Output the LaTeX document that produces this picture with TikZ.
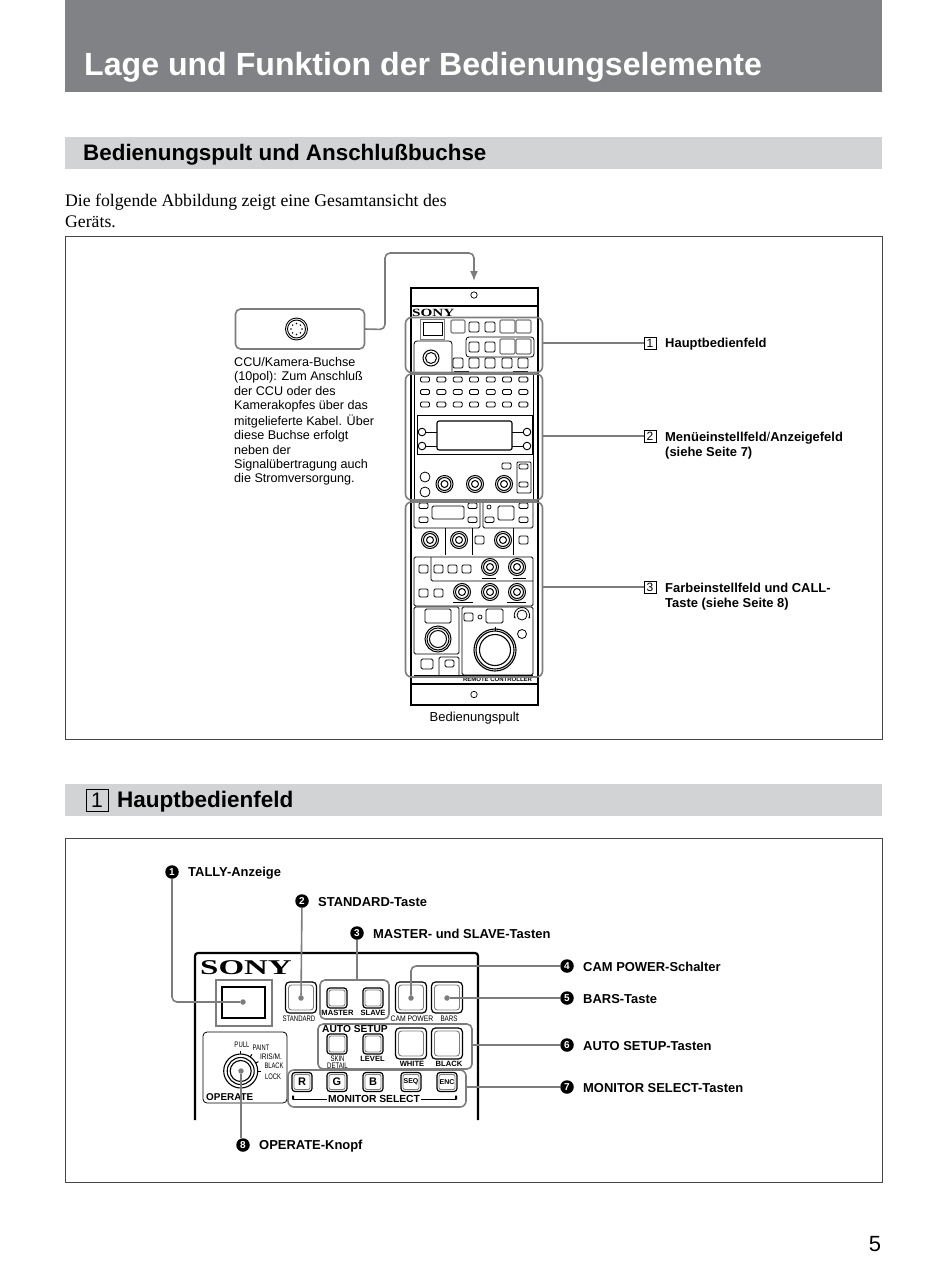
\documentclass[tikz,border=0pt]{standalone}
\usepackage{fontspec}
\usepackage{graphicx}
\setmainfont{Liberation Sans}
\newfontfamily\serifschrift{Liberation Serif}
\usetikzlibrary{positioning,arrows.meta}
\definecolor{balken}{RGB}{128,130,133}
\definecolor{hellbalken}{RGB}{209,211,212}
\definecolor{zeiger}{RGB}{125,125,125}
\definecolor{rahmen}{RGB}{70,70,70}
\newcommand{\gr}[1]{\fontsize{#1}{#1}\selectfont}
\newcommand{\schmal}[2][0.75]{\scalebox{#1}[1]{#2}}

\begin{document}
\begin{tikzpicture}[x=1pt,y=-1pt,
  band/.style={fill=#1,draw=none,minimum width=817pt,anchor=west,inner sep=0pt,outer sep=0pt},
  frame/.style={draw=rahmen,line width=0.6pt,anchor=north west,minimum width=816.5pt,inner sep=0pt},
  lbl/.style={anchor=west,inner sep=0pt,yshift=-0.8pt,font=\gr{12.95}\bfseries,align=left},
  txt/.style={anchor=north west,inner sep=0pt,font=\gr{12.6},align=left},
  numbox/.style={draw=black,line width=0.6pt,minimum size=12pt,inner sep=0pt,font=\gr{12}},
  bullet/.style={circle,fill=black,text=white,minimum size=13.5pt,inner sep=0pt,font=\gr{10}\bfseries},
  bracket/.style={draw=zeiger,line width=1.6pt,rounded corners=6pt,minimum width=137pt,inner sep=0pt,outer sep=0pt},
  grpbox/.style={draw=zeiger,line width=1.6pt,rounded corners=5pt,inner sep=0pt,outer sep=0pt},
  zeigerline/.style={draw=zeiger,line width=1.6pt,rounded corners=5pt},
  dot/.style={circle,fill=zeiger,minimum size=5.5pt,inner sep=0pt,outer sep=0pt},
  part/.style={draw=black,line width=0.9pt,fill=white,rounded corners=1.2pt},
  thin part/.style={draw=black,line width=0.8pt,rounded corners=1.5pt},
  tinylbl/.style={inner sep=0pt,font=\gr{8}},
  capt/.style={inner sep=0pt,font=\gr{7.6}\bfseries}]
  \useasboundingbox (0,0) rectangle (950,1268);

  % baender und rahmen
  \node[band=balken,minimum height=92pt] (titel) at (65,46) {};
  \node[anchor=west,inner sep=0pt,text=white,font=\gr{32.1}\bfseries] (titeltext) at (84,67.5) {Lage und Funktion der Bedienungselemente};
  \node[band=hellbalken,minimum height=32pt] (band1) at (65,153) {};
  \node[anchor=west,inner sep=0pt,font=\gr{22.4}\bfseries] (band1text) at (83,154.5) {Bedienungspult und Anschlußbuchse};
  \node[anchor=north west,inner sep=0pt,font=\serifschrift\gr{17.7},align=left] (intro) at (65,194) {Die folgende Abbildung zeigt eine Gesamtansicht des\\[3pt]Geräts.};
  \node[frame,minimum height=503pt] (rahmen1) at (65,236) {};
  \node[band=hellbalken,minimum height=32pt] (band2) at (65,800) {};
  \node[numbox,minimum size=22pt,font=\gr{21}] (bandnum) at (97,800) {1};
  \node[anchor=west,inner sep=0pt,font=\gr{22.5}\bfseries] (band2text) at (117,801.5) {Hauptbedienfeld};
  \node[frame,minimum height=344pt] (rahmen2) at (65,838) {};
  \node[inner sep=0pt,font=\gr{22}] (seite) at (875,1244) {5};

  % bedienungspult, gehaeuse
  \draw[line width=1.4pt] (411,288) -- (538,288);
  \draw[line width=2pt] (411,287) -- (411,705) -- (538,705) -- (538,287);
  \draw[line width=1.2pt] (411,306) -- (538,306) (411,684) -- (538,684);
  \draw[line width=0.7pt] (474,295) circle (3.2) (474,694.5) circle (3.2);
  \draw[line width=0.8pt] (414,374) -- (414,502) (533,374) -- (533,502);
  \node[anchor=west,inner sep=0pt,font=\serifschrift\gr{11}\bfseries] (sonyklein) at (412,313) {\scalebox{1.38}[1]{SONY}};
  \node[inner sep=0pt,font=\gr{6}\bfseries] (remote) at (497.5,679.5) {REMOTE CONTROLLER};

  % teil 1
  \draw[line width=1pt,draw=zeiger] (420,319) rectangle (444,339);
  \draw[line width=0.9pt] (423,322) rectangle (442,335);
  \foreach \a/\b in {451/465,500/515,516/531}
    \draw[part,draw=zeiger,line width=1.2pt] (\a,320) rectangle (\b,333);
  \foreach \a in {469,485}
    \draw[part] (\a,322) rectangle ++(10,10);
  \draw[thin part,rounded corners=3pt] (414,372) -- (414,341) -- (452,341) -- (452,372);
  \draw[line width=1pt] (431,358) circle (8) (431,358) circle (5.5);
  \draw[thin part,rounded corners=3pt] (466,337) rectangle (534,357);
  \foreach \a in {469,485}
    \draw[part] (\a,342) rectangle ++(10,10);
  \foreach \a/\b in {500/515,516/531}
    \draw[part,draw=zeiger,line width=1.2pt] (\a,339) rectangle (\b,354);
  \foreach \a in {453,469,485,502,518}
    \draw[part] (\a,358) rectangle ++(10,10);
  \draw[line width=0.8pt] (454,371) -- (469,371) (513,371) -- (528,371);

  % teil 2
  \foreach \y in {379.5,392,404.5}
    \foreach \x in {425,441.3,457.7,474,490.7,507,523.3}
      \draw[part] (\x-4.5,\y-2.5) rectangle ++(9,5);
  \draw[line width=0.8pt] (417,415) rectangle (532,454);
  \draw[thin part,rounded corners=2pt,line width=1.1pt] (437,421) rectangle (512,450);
  \foreach \y in {432,446}{
    \draw[line width=0.8pt] (422,\y) -- (437,\y) (512,\y) -- (527,\y);
    \draw[part] (422,\y) circle (3.8) (527,\y) circle (3.8);
  }
  \draw[line width=0.8pt] (425,477) circle (5) (425,492) circle (5);
  \foreach \x in {444.5,475,504}{
    \draw[line width=1pt] (\x,484) circle (8.5) (\x,484) circle (6.5) (\x,484) circle (3.5);
  }
  \draw[part] (502,463) rectangle (511,469);
  \draw[thin part,rounded corners=1pt] (517,462) rectangle (531,493);
  \draw[part] (519,464) rectangle (528,469) (519,482) rectangle (528,487);

  % teil 3
  \draw[thin part] (414,503) -- (414,528) -- (480,528) -- (480,503);
  \draw[thin part] (483,503) -- (483,528) -- (533,528) -- (533,503);
  \foreach \x/\y in {419/503,419/517,468/503,468/517,519/503,519/517,485/517}
    \draw[part] (\x,\y) rectangle ++(9,5.5);
  \draw[thin part] (432,506) rectangle (464,519) (498,506) rectangle (514,520);
  \draw[line width=0.7pt] (489,507) circle (2);
  \foreach \x/\y in {430/540,459/540,503/540,490/567,517/567,462/592,490/592,517/592}{
    \draw[line width=1pt] (\x,\y) circle (8.5) (\x,\y) circle (6.5) (\x,\y) circle (3.5);
  }
  \draw[line width=0.8pt] (445,528) -- (445,555) (472,528) -- (472,555) (513,528) -- (513,555);
  \foreach \x in {475,519}
    \draw[part] (\x,536) rectangle ++(9,8);
  \draw[thin part] (414,557) rectangle (533,606);
  \draw[thin part] (431,557) -- (431,581) -- (533,581);
  \foreach \x/\y in {419/565,434/565,448/565,462/565,419/589,434/589}
    \draw[part] (\x,\y) rectangle ++(9,8);
  \draw[line width=1pt] (482,578) -- (496,578) (513,578) -- (526,578) (453,602) -- (473,602) (507,602) -- (526,602);
  \draw[thin part] (414,607) -- (459,607) -- (459,654) -- (414,654) -- cycle;
  \draw[thin part] (425,609) rectangle (451,623);
  \draw[line width=1pt] (438,639) circle (13) (438,639) circle (11) (438,639) circle (8.5);
  \draw[thin part] (421,659) rectangle (433,669);
  \draw[thin part] (439,675) -- (439,657) -- (459,657) -- (459,675);
  \draw[thin part] (445,660) rectangle (454,667);
  \draw[thin part] (462,675) -- (462,607) -- (533,607) -- (533,675) -- cycle;
  \draw[part] (464,613) rectangle (473,621);
  \draw[line width=0.7pt] (480,617) circle (2);
  \draw[thin part] (486,609) rectangle (503,623);
  \draw[line width=0.8pt] (522,615) circle (5);
  \draw[line width=0.8pt,{Latex[length=2pt,width=2pt]}-{Latex[length=2pt,width=2pt]}] (522,615) ++(150:7.5) arc (150:390:7.5);
  \draw[line width=0.8pt] (522,634) circle (4.5);
  \draw[line width=1.1pt] (495,650) circle (21) (495,650) circle (19) (495,650) circle (15.5);
  \draw[line width=0.8pt] (495,627) -- (495,631);
  \draw[line width=0.8pt] (414,675) -- (533,675);

  % klammern und beschriftung oben
  \node[bracket,minimum height=55pt] (sec1) at (474,345) {};
  \node[bracket,minimum height=126pt] (sec2) at (474,437) {};
  \node[bracket,minimum height=175pt] (sec3) at (474,589.5) {};
  \node[numbox] (n1) at (650,343) {1};
  \node[numbox] (n2) at (650,436) {2};
  \node[numbox] (n3) at (650,587) {3};
  \draw[zeigerline] (sec1.east |- n1) -- (n1);
  \draw[zeigerline] (sec2.east |- n2) -- (n2);
  \draw[zeigerline] (sec3.east |- n3) -- (n3);
  \node[lbl] (haupt) at (665,343) {Hauptbedienfeld};
  \node[lbl,anchor=north west] (menue) at (665,431) {Menüeinstellfeld{\mdseries/}Anzeigefeld\\[1.9pt](siehe Seite 7)};
  \node[lbl,anchor=north west] (farb) at (665,582) {Farbeinstellfeld und CALL-\\[1.9pt]Taste (siehe Seite 8)};

  % buchse
  \node[grpbox,minimum width=129pt,minimum height=40pt] (buchse) at (300,329) {};
  \draw[line width=0.9pt] (296.5,329) circle (11) (296.5,329) circle (9);
  \foreach \w in {0,45,...,315}
    \fill (296.5,329) ++(\w:5.5) circle (0.8);
  \coordinate (pfeilziel) at (474,281);
  \draw[zeigerline,-{Latex[length=10pt,width=8pt]}] (buchse.east) -- (385,329.5) -- (385,253) -- (474,253) -- (pfeilziel);
  \node[txt] (buchsetext) at (234,357.3) {CCU/Kamera-Buchse\\[1.75pt](10pol): Zum Anschluß\\[1.75pt]der CCU oder des\\[1.75pt]Kamerakopfes über das\\[1.75pt]mitgelieferte Kabel. Über\\[1.75pt]diese Buchse erfolgt\\[1.75pt]neben der\\[1.75pt]Signalübertragung auch\\[1.75pt]die Stromversorgung.};
  \node[inner sep=0pt,font=\gr{13}] (pultname) at (474.5,717.8) {Bedienungspult};

  % hauptbedienfeld gross
  \draw[line width=2.2pt,rounded corners=3pt] (195,1120) -- (195,953) -- (478,953) -- (478,1120);
  \node[anchor=west,inner sep=0pt,font=\serifschrift\gr{21}\bfseries] (sony) at (200,968) {\scalebox{1.57}[1]{SONY}};
  \draw[draw=zeiger,line width=1.2pt] (216,980) rectangle (272,1026);
  \draw[line width=1.2pt] (222,987) rectangle (265,1018);
  % tasten gross
  \foreach \x/\y in {301/997.5,411/997.5,447/997.5,411/1043.5,447/1043.5}{
    \draw[part,line width=1.2pt,rounded corners=4pt] (\x-15.5,\y-15.5) rectangle ++(31,31);
    \draw[draw=zeiger,line width=0.9pt,rounded corners=3pt] (\x-12.5,\y-12.5) rectangle ++(25,25);
  }
  \foreach \x/\y in {337/998,373/998,337/1044,373/1044}{
    \draw[part,line width=1.2pt,rounded corners=3pt] (\x-10,\y-10) rectangle ++(20,20);
    \draw[draw=zeiger,line width=0.9pt,rounded corners=2pt] (\x-8,\y-8) rectangle ++(16,16);
  }
  \foreach \x/\t/\f in {302/R/11,337/G/11,373/B/11,411/SEQ/7,447/ENC/7}{
    \draw[part,line width=1.2pt,rounded corners=3pt] (\x-10,1072.5) rectangle ++(20,19);
    \draw[draw=zeiger,line width=0.9pt,rounded corners=2pt] (\x-8,1074.5) rectangle ++(16,15);
    \node[inner sep=0pt,font=\gr{\f}\bfseries] (mon\t) at (\x,1082) {\t};
  }
  \node[tinylbl] (lstandard) at (299,1019) {\schmal{STANDARD}};
  \node[tinylbl] (lcam) at (412,1019) {\schmal[0.85]{CAM POWER}};
  \node[tinylbl] (lbars) at (449,1019) {\schmal[0.78]{BARS}};
  \node[capt] (lmaster) at (337.5,1013) {MASTER};
  \node[capt] (lslave) at (373,1013) {SLAVE};
  \node[capt,font=\gr{10.2}\bfseries] (lauto) at (355,1029) {AUTO SETUP};
  \node[tinylbl,align=center] (lskin) at (337.5,1062) {\schmal{SKIN}\\[-1pt]\schmal{DETAIL}};
  \node[capt] (llevel) at (372.5,1059) {LEVEL};
  \node[capt] (lwhite) at (412,1064) {WHITE};
  \node[capt] (lblack) at (449,1064) {BLACK};
  \node[capt,font=\gr{10.3}\bfseries] (lmon) at (374,1099) {MONITOR SELECT};
  \draw[line width=1pt] (293,1099) -- (327,1099) (421,1099) -- (456,1099);
  \fill (292,1095.5) rectangle (294,1099.5) (455,1095.5) rectangle (457,1099.5);
  % operate
  \draw[thin part,rounded corners=4pt] (203,1032) rectangle (287,1103);
  \draw[line width=1.1pt] (240.7,1071) circle (17) (240.7,1071) circle (13.5) (240.7,1071) circle (10.5);
  \foreach \w in {0,28,56,90}
    \draw[line width=1pt] (240.7,1071) ++(-\w:17) -- ++(-\w:3);
  \node[tinylbl] (lpull) at (242,1045) {\schmal{PULL}};
  \node[tinylbl] (lpaint) at (261,1048) {\schmal[0.72]{PAINT}};
  \node[tinylbl] (liris) at (271,1057) {\schmal[0.82]{IRIS/M.}};
  \node[tinylbl] (lblk) at (274,1066) {\schmal[0.72]{BLACK}};
  \node[tinylbl] (llock) at (273,1077) {\schmal[0.73]{LOCK}};
  \node[anchor=west,inner sep=0pt,font=\gr{9.9}\bfseries] (loperate) at (206,1097) {OPERATE};

  % gruppen
  \node[grpbox,minimum width=69pt,minimum height=39pt] (gmaster) at (354.5,999.5) {};
  \node[grpbox,minimum width=154pt,minimum height=45pt] (gauto) at (395,1046.5) {};
  \node[grpbox,minimum width=178pt,minimum height=37pt,rounded corners=6pt] (gmon) at (377,1088.5) {};

  % punkte und nummern
  \node[dot] (d1) at (243,1002) {};
  \node[dot] (d2) at (301,998) {};
  \node[dot] (d4) at (411,998) {};
  \node[dot] (d5) at (447,998) {};
  \node[dot] (d8) at (241,1071) {};
  \node[bullet] (b1) at (172,872) {1};
  \node[bullet] (b2) at (302,901) {2};
  \node[bullet] (b3) at (357,933) {3};
  \node[bullet] (b4) at (567,966) {4};
  \node[bullet] (b5) at (567,998) {5};
  \node[bullet] (b6) at (567,1045) {6};
  \node[bullet] (b7) at (567,1087) {7};
  \node[bullet] (b8) at (243,1145) {8};
  \draw[zeigerline] (b1) -- (b1 |- d1) -- (d1);
  \draw[zeigerline] (b2) -- (d2);
  \draw[zeigerline] (b3) -- (b3 |- gmaster.north);
  \draw[zeigerline] (b4) -- (b4 -| d4) -- (d4);
  \draw[zeigerline] (b5) -- (d5);
  \draw[zeigerline] (b6) -- (b6 -| gauto.east);
  \draw[zeigerline] (b7) -- (b7 -| gmon.east);
  \draw[zeigerline] (b8.north -| d8) -- (d8);
  \node[lbl] (t1) at (188,872) {TALLY-Anzeige};
  \node[lbl] (t2) at (318,901) {STANDARD-Taste};
  \node[lbl] (t3) at (373,933) {MASTER- und SLAVE-Tasten};
  \node[lbl] (t4) at (583,966) {CAM POWER-Schalter};
  \node[lbl] (t5) at (583,998) {BARS-Taste};
  \node[lbl] (t6) at (583,1045) {AUTO SETUP-Tasten};
  \node[lbl] (t7) at (583,1087) {MONITOR SELECT-Tasten};
  \node[lbl] (t8) at (259,1145) {OPERATE-Knopf};
\end{tikzpicture}
\end{document}
